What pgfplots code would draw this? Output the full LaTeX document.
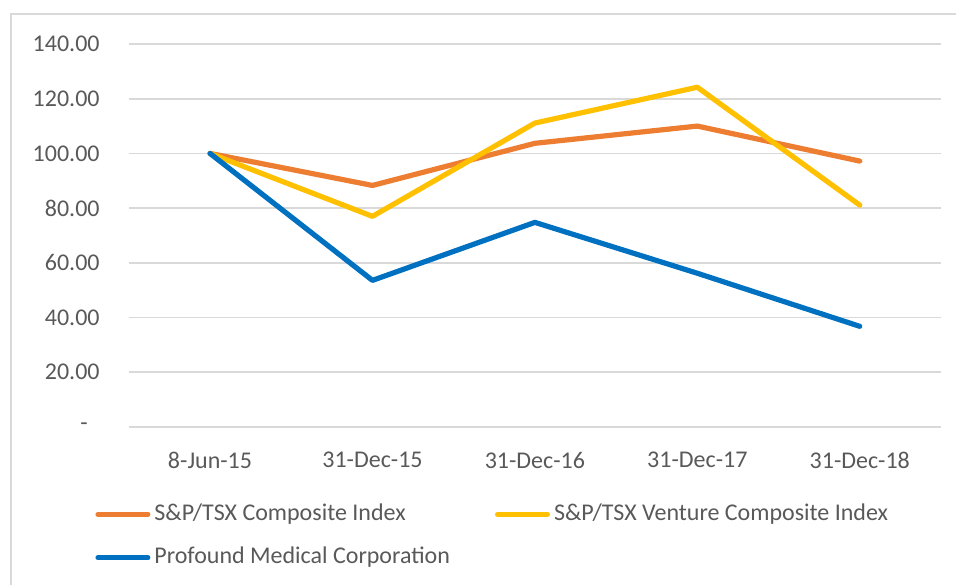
\documentclass[border=0pt]{standalone}
\usepackage{fontspec}
\setmainfont{Carlito}
\usepackage{pgfplots}
\pgfplotsset{compat=1.18}
\definecolor{cOrange}{HTML}{ED7D31}
\definecolor{cYellow}{HTML}{FFC000}
\definecolor{cBlue}{HTML}{0070C0}
\definecolor{cGrid}{HTML}{D9D9D9}
\definecolor{cText}{HTML}{595959}
\begin{document}
\begin{tikzpicture}
\useasboundingbox (0,0) rectangle (478pt,292pt);
\draw[cGrid, line width=0.8pt] (5.5pt,-10pt) rectangle (490pt,285pt);
\begin{axis}[
  at={(64.4pt,78.5pt)}, anchor=south west,
  scale only axis, width=406.1pt, height=191.5pt,
  xmin=-0.5, xmax=4.5, ymin=0, ymax=140,
  xtick={0,1,2,3,4},
  xticklabels={8-Jun-15,31-Dec-15,31-Dec-16,31-Dec-17,31-Dec-18},
  ytick={0,20,40,60,80,100,120,140},
  yticklabels={-\rule{6pt}{0pt},20.00,40.00,60.00,80.00,100.00,120.00,140.00},
  axis line style={draw=none},
  major tick length=0pt,
  ymajorgrids,
  grid style={cGrid, line width=0.8pt},
  tick label style={font=\fontsize{12}{14}\selectfont, text=cText, inner sep=0pt},
  yticklabel style={xshift=-14.4pt},
  xticklabel style={yshift=-12.3pt},
  legend columns=2,
  legend style={
    at={(-0.0416,-0.2846)}, anchor=west,
    draw=none, fill=none, inner sep=0pt,
    font=\fontsize{12}{14}\selectfont, text=cText,
    nodes={inner sep=1pt, text height=8.3pt, text depth=2.6pt},
    row sep=8.8pt,
    /tikz/every odd column/.append style={column sep=1pt},
    /tikz/every even column/.append style={column sep=21.5pt},
  },
  legend cell align=left,
  legend image code/.code={\draw[#1, line cap=round] (1.3pt,0pt) -- (26.2pt,0pt);},
  every axis plot/.append style={line width=2.6pt, line join=round, line cap=round},
]
\addplot[cOrange] coordinates {(0,100) (1,88.3) (2,103.7) (3,110.0) (4,97.2)};
\addlegendentry{S\&P/TSX Composite Index}
\addplot[cYellow] coordinates {(0,100) (1,77.0) (2,111.1) (3,124.2) (4,81.1)};
\addlegendentry{S\&P/TSX Venture Composite Index}
\addplot[cBlue] coordinates {(0,100) (1,53.6) (2,74.8) (3,56.2) (4,36.8)};
\addlegendentry{Profound Medical Corporation}
\end{axis}
\end{tikzpicture}
\end{document}
